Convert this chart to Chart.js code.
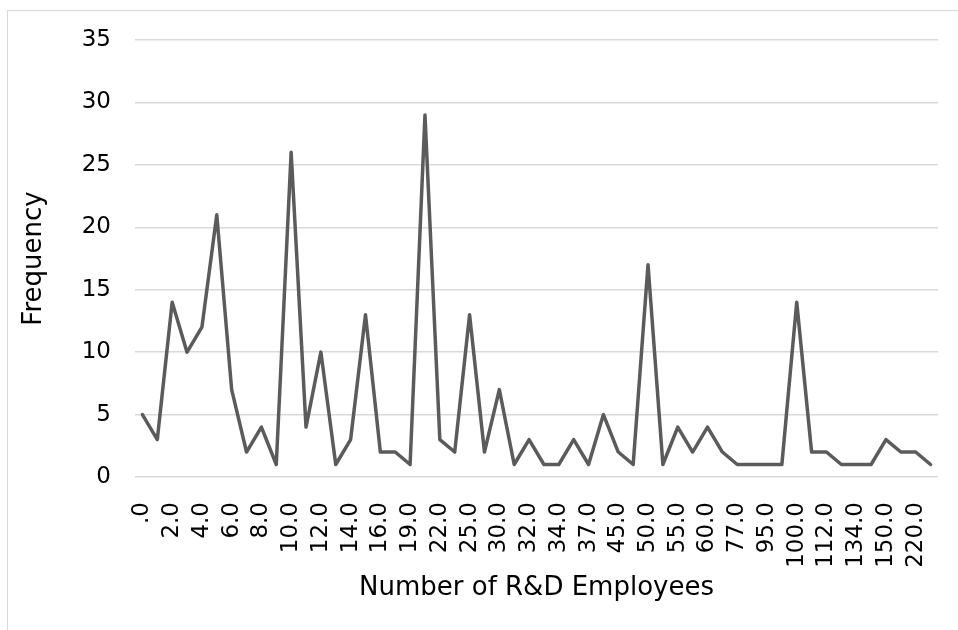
<!DOCTYPE html>
<html>
<head>
<meta charset="utf-8">
<script src="https://cdn.jsdelivr.net/npm/chart.js@4"></script>
<style>
    body { margin: 0; background: #ffffff; }
    #wrap { position: relative; width: 958px; height: 630px; overflow: hidden; }
    #frame { position: absolute; left: 7px; top: 10px; width: 1000px; height: 700px; border-left: 1px solid #d9d9d9; border-top: 1px solid #d9d9d9; }
    #chart { position: absolute; left: 0; top: 0; }
</style>
</head>
<body>
<div id="wrap">
    <div id="frame"></div>
    <canvas id="chart" width="958" height="630"></canvas>
</div>
<script>
const employees = [
    ".0", "1.0", "2.0", "3.0", "4.0", "5.0", "6.0", "7.0", "8.0", "9.0",
    "10.0", "11.0", "12.0", "13.0", "14.0", "15.0", "16.0", "18.0", "19.0", "20.0",
    "22.0", "23.0", "25.0", "27.0", "30.0", "31.0", "32.0", "33.0", "34.0", "35.0",
    "37.0", "40.0", "45.0", "48.0", "50.0", "52.0", "55.0", "58.0", "60.0", "70.0",
    "77.0", "80.0", "95.0", "98.0", "100.0", "110.0", "112.0", "120.0", "134.0", "140.0",
    "150.0", "200.0", "220.0", "300.0"
];
const frequency = [
    5, 3, 14, 10, 12, 21, 7, 2, 4, 1,
    26, 4, 10, 1, 3, 13, 2, 2, 1, 29,
    3, 2, 13, 2, 7, 1, 3, 1, 1, 3,
    1, 5, 2, 1, 17, 1, 4, 2, 4, 2,
    1, 1, 1, 1, 14, 2, 2, 1, 1, 1,
    3, 2, 2, 1
];
const yTicks = [0, 5, 10, 15, 20, 25, 30, 35];

function drawChart() {
    const ctx = document.getElementById("chart");
    new Chart(ctx, {
        type: "line",
        data: {
            labels: employees,
            datasets: [{
                label: "Frequency",
                data: frequency,
                borderColor: "#5b5b5b",
                borderWidth: 3.5,
                borderJoinStyle: "round",
                borderCapStyle: "round",
                pointRadius: 0,
                tension: 0
            }]
        },
        options: {
            responsive: false,
            animation: false,
            layout: { padding: { left: 8, right: 20, top: 40, bottom: 0 } },
            plugins: { legend: { display: false }, tooltip: { enabled: false } },
            scales: {
                x: {
                    offset: true,
                    grid: { display: false },
                    border: { display: false },
                    ticks: {
                        autoSkip: false,
                        minRotation: 90,
                        maxRotation: 90,
                        padding: 17,
                        color: "#000000",
                        font: { family: "DejaVu Sans", size: 23 },
                        callback: function (value, index) {
                            return index % 2 == 0 ? this.getLabelForValue(value) : "";
                        }
                    },
                    title: {
                        display: true,
                        text: "Number of R&D Employees",
                        color: "#000000",
                        font: { family: "DejaVu Sans", size: 26 },
                        padding: { top: 0, bottom: 26 }
                    },
                    afterFit: function (scale) {
                        scale.height = 153;
                        scale.paddingLeft = 0;
                        scale.paddingRight = 0;
                    }
                },
                y: {
                    min: yTicks[0],
                    max: yTicks[yTicks.length - 1],
                    grid: { color: "#d9d9d9", lineWidth: 1.5, drawTicks: false },
                    border: { display: false },
                    afterBuildTicks: function (scale) {
                        scale.ticks = yTicks.map(v => ({ value: v }));
                    },
                    ticks: {
                        padding: 24,
                        color: "#000000",
                        font: { family: "DejaVu Sans", size: 23 }
                    },
                    title: {
                        display: true,
                        text: "Frequency",
                        color: "#000000",
                        font: { family: "DejaVu Sans", size: 26 },
                        padding: { top: 11, bottom: 0 }
                    },
                    afterFit: function (scale) { scale.width = 127; }
                }
            }
        }
    });
}
drawChart();
</script>
</body>
</html>
